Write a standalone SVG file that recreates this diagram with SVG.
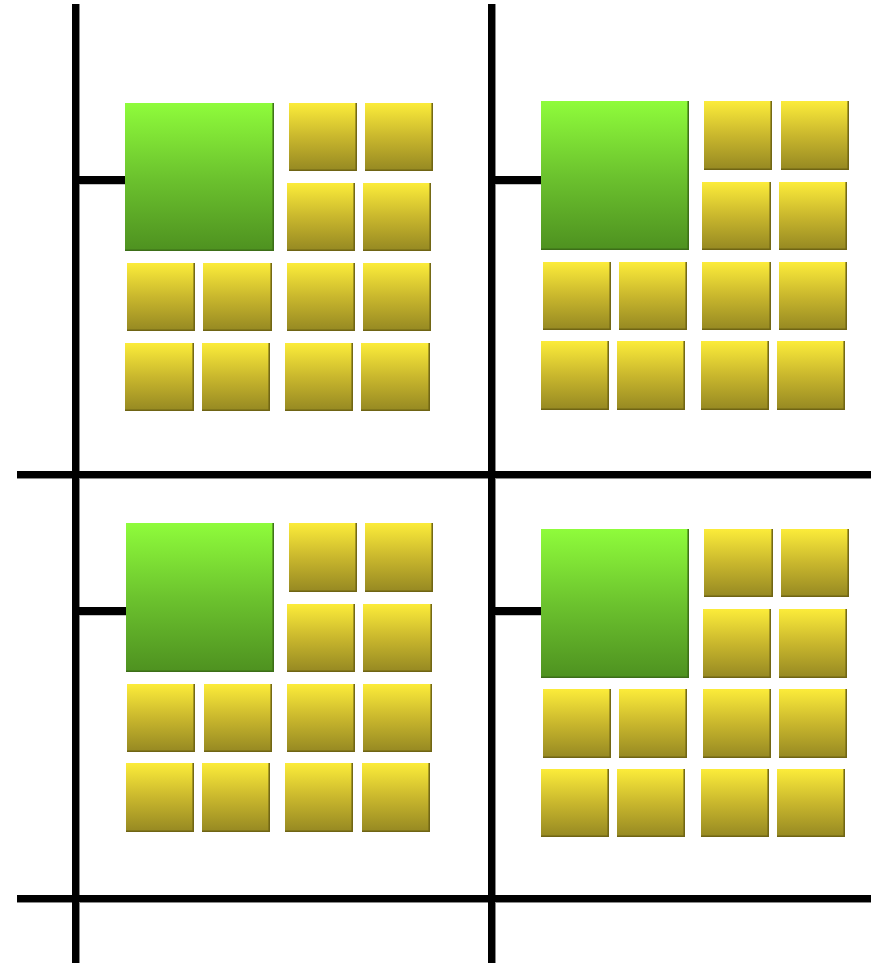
<svg xmlns="http://www.w3.org/2000/svg" width="873" height="963" viewBox="0 0 873 963">
<defs>
<linearGradient id="gy" x1="0" y1="0" x2="0" y2="1">
<stop offset="0" stop-color="#fcec3a"/>
<stop offset="0.5" stop-color="#c9b72d"/>
<stop offset="1" stop-color="#958822"/>
</linearGradient>
<linearGradient id="gg" x1="0" y1="0" x2="0" y2="1">
<stop offset="0" stop-color="#8ffc3b"/>
<stop offset="0.5" stop-color="#6cc32e"/>
<stop offset="1" stop-color="#4e9120"/>
</linearGradient>
</defs>
<style>
.y{fill:url(#gy)}
.g{fill:url(#gg)}
.ye{fill:none;stroke:#6f6414;stroke-width:1.5}
.ge{fill:none;stroke:#3c6e18;stroke-width:1.5}
.ln{stroke:#000;stroke-width:7;fill:none}
.sh{stroke:#8a8a8a;stroke-width:7;fill:none}
.st{stroke:#000;stroke-width:8;fill:none}
</style>
<g id="connectors">
<path class="sh" d="M76.5 4V963M492.5 4V963M17 475.5H871M17 899.5H871M80 181H126M496 181H542M80 612H126M496 612H542"/>
<path class="ln" d="M75.5 4V963M491.5 4V963M17 474.5H871M17 898.5H871"/>
<path class="st" d="M79 180H126M495 180H542M79 611H126M495 611H542"/>
</g>
<g id="q1">
<g id="q1-main"><rect class="g" x="125" y="103" width="149" height="148"/><path class="ge" d="M125 250.2H273.2V103"/></g>
<g id="q1-a1"><rect class="y" x="289" y="103" width="68" height="68"/><path class="ye" d="M289 170.2H356.2V103"/></g>
<g id="q1-a2"><rect class="y" x="365" y="103" width="68" height="68"/><path class="ye" d="M365 170.2H432.2V103"/></g>
<g id="q1-b1"><rect class="y" x="287" y="183" width="68" height="68"/><path class="ye" d="M287 250.2H354.2V183"/></g>
<g id="q1-b2"><rect class="y" x="363" y="183" width="68" height="68"/><path class="ye" d="M363 250.2H430.2V183"/></g>
<g id="q1-c1"><rect class="y" x="127" y="263" width="68" height="68"/><path class="ye" d="M127 330.2H194.2V263"/></g>
<g id="q1-c2"><rect class="y" x="203" y="263" width="69" height="68"/><path class="ye" d="M203 330.2H271.2V263"/></g>
<g id="q1-c3"><rect class="y" x="287" y="263" width="68" height="68"/><path class="ye" d="M287 330.2H354.2V263"/></g>
<g id="q1-c4"><rect class="y" x="363" y="263" width="68" height="68"/><path class="ye" d="M363 330.2H430.2V263"/></g>
<g id="q1-d1"><rect class="y" x="125" y="343" width="69" height="68"/><path class="ye" d="M125 410.2H193.2V343"/></g>
<g id="q1-d2"><rect class="y" x="202" y="343" width="68" height="68"/><path class="ye" d="M202 410.2H269.2V343"/></g>
<g id="q1-d3"><rect class="y" x="285" y="343" width="68" height="68"/><path class="ye" d="M285 410.2H352.2V343"/></g>
<g id="q1-d4"><rect class="y" x="361" y="343" width="69" height="68"/><path class="ye" d="M361 410.2H429.2V343"/></g>
</g>
<g id="q2">
<g id="q2-main"><rect class="g" x="541" y="101" width="148" height="149"/><path class="ge" d="M541 249.2H688.2V101"/></g>
<g id="q2-a1"><rect class="y" x="704" y="101" width="68" height="69"/><path class="ye" d="M704 169.2H771.2V101"/></g>
<g id="q2-a2"><rect class="y" x="781" y="101" width="68" height="69"/><path class="ye" d="M781 169.2H848.2V101"/></g>
<g id="q2-b1"><rect class="y" x="702" y="182" width="69" height="68"/><path class="ye" d="M702 249.2H770.2V182"/></g>
<g id="q2-b2"><rect class="y" x="779" y="182" width="68" height="68"/><path class="ye" d="M779 249.2H846.2V182"/></g>
<g id="q2-c1"><rect class="y" x="543" y="262" width="68" height="68"/><path class="ye" d="M543 329.2H610.2V262"/></g>
<g id="q2-c2"><rect class="y" x="619" y="262" width="68" height="68"/><path class="ye" d="M619 329.2H686.2V262"/></g>
<g id="q2-c3"><rect class="y" x="702" y="262" width="69" height="68"/><path class="ye" d="M702 329.2H770.2V262"/></g>
<g id="q2-c4"><rect class="y" x="779" y="262" width="68" height="68"/><path class="ye" d="M779 329.2H846.2V262"/></g>
<g id="q2-d1"><rect class="y" x="541" y="341" width="68" height="69"/><path class="ye" d="M541 409.2H608.2V341"/></g>
<g id="q2-d2"><rect class="y" x="617" y="341" width="68" height="69"/><path class="ye" d="M617 409.2H684.2V341"/></g>
<g id="q2-d3"><rect class="y" x="701" y="341" width="68" height="69"/><path class="ye" d="M701 409.2H768.2V341"/></g>
<g id="q2-d4"><rect class="y" x="777" y="341" width="68" height="69"/><path class="ye" d="M777 409.2H844.2V341"/></g>
</g>
<g id="q3">
<g id="q3-main"><rect class="g" x="126" y="523" width="148" height="149"/><path class="ge" d="M126 671.2H273.2V523"/></g>
<g id="q3-a1"><rect class="y" x="289" y="523" width="68" height="69"/><path class="ye" d="M289 591.2H356.2V523"/></g>
<g id="q3-a2"><rect class="y" x="365" y="523" width="68" height="69"/><path class="ye" d="M365 591.2H432.2V523"/></g>
<g id="q3-b1"><rect class="y" x="287" y="604" width="68" height="68"/><path class="ye" d="M287 671.2H354.2V604"/></g>
<g id="q3-b2"><rect class="y" x="363" y="604" width="69" height="68"/><path class="ye" d="M363 671.2H431.2V604"/></g>
<g id="q3-c1"><rect class="y" x="127" y="684" width="68" height="68"/><path class="ye" d="M127 751.2H194.2V684"/></g>
<g id="q3-c2"><rect class="y" x="204" y="684" width="68" height="68"/><path class="ye" d="M204 751.2H271.2V684"/></g>
<g id="q3-c3"><rect class="y" x="287" y="684" width="68" height="68"/><path class="ye" d="M287 751.2H354.2V684"/></g>
<g id="q3-c4"><rect class="y" x="363" y="684" width="69" height="68"/><path class="ye" d="M363 751.2H431.2V684"/></g>
<g id="q3-d1"><rect class="y" x="126" y="763" width="68" height="69"/><path class="ye" d="M126 831.2H193.2V763"/></g>
<g id="q3-d2"><rect class="y" x="202" y="763" width="68" height="69"/><path class="ye" d="M202 831.2H269.2V763"/></g>
<g id="q3-d3"><rect class="y" x="285" y="763" width="68" height="69"/><path class="ye" d="M285 831.2H352.2V763"/></g>
<g id="q3-d4"><rect class="y" x="362" y="763" width="68" height="69"/><path class="ye" d="M362 831.2H429.2V763"/></g>
</g>
<g id="q4">
<g id="q4-main"><rect class="g" x="541" y="529" width="148" height="149"/><path class="ge" d="M541 677.2H688.2V529"/></g>
<g id="q4-a1"><rect class="y" x="704" y="529" width="69" height="68"/><path class="ye" d="M704 596.2H772.2V529"/></g>
<g id="q4-a2"><rect class="y" x="781" y="529" width="68" height="68"/><path class="ye" d="M781 596.2H848.2V529"/></g>
<g id="q4-b1"><rect class="y" x="703" y="609" width="68" height="69"/><path class="ye" d="M703 677.2H770.2V609"/></g>
<g id="q4-b2"><rect class="y" x="779" y="609" width="68" height="69"/><path class="ye" d="M779 677.2H846.2V609"/></g>
<g id="q4-c1"><rect class="y" x="543" y="689" width="68" height="69"/><path class="ye" d="M543 757.2H610.2V689"/></g>
<g id="q4-c2"><rect class="y" x="619" y="689" width="68" height="69"/><path class="ye" d="M619 757.2H686.2V689"/></g>
<g id="q4-c3"><rect class="y" x="703" y="689" width="68" height="69"/><path class="ye" d="M703 757.2H770.2V689"/></g>
<g id="q4-c4"><rect class="y" x="779" y="689" width="68" height="69"/><path class="ye" d="M779 757.2H846.2V689"/></g>
<g id="q4-d1"><rect class="y" x="541" y="769" width="68" height="68"/><path class="ye" d="M541 836.2H608.2V769"/></g>
<g id="q4-d2"><rect class="y" x="617" y="769" width="68" height="68"/><path class="ye" d="M617 836.2H684.2V769"/></g>
<g id="q4-d3"><rect class="y" x="701" y="769" width="68" height="68"/><path class="ye" d="M701 836.2H768.2V769"/></g>
<g id="q4-d4"><rect class="y" x="777" y="769" width="68" height="68"/><path class="ye" d="M777 836.2H844.2V769"/></g>
</g>
</svg>
